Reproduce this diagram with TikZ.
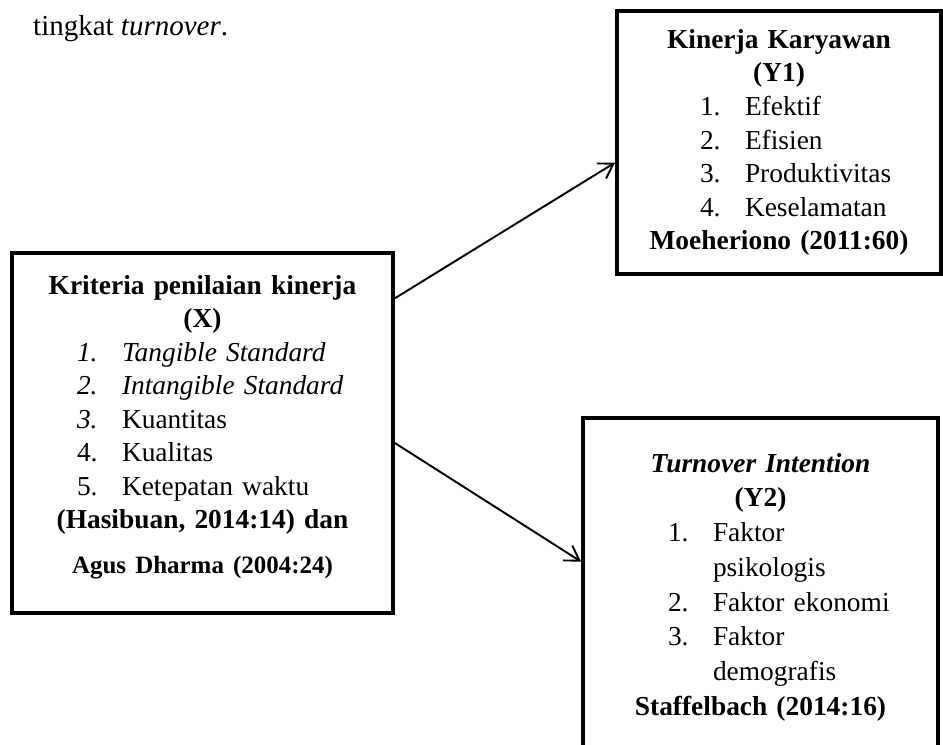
\documentclass[tikz,border=0pt]{standalone}
\usepackage{fontspec}
\setmainfont{Liberation Serif}
\usetikzlibrary{arrows.meta}
\setlength{\parindent}{0pt}
\newcommand{\itm}[2]{\makebox[0.9cm][l]{#1}#2\par}

\begin{document}
\begin{tikzpicture}[x=0.02cm,y=-0.02cm,
    box/.style={draw,line width=2.3pt,inner sep=0pt,
      font=\fontsize{15.6}{19.1}\selectfont}]
      \useasboundingbox (0,0) rectangle (943,744);
      \draw
        (27,35) node[anchor=base west,font=\fontsize{16.5}{20}\selectfont] (intro){tingkat \textit{turnover}.}
        (202.5,433) node[box,minimum width=7.62cm,minimum height=7.2cm,text width=7cm] (x){%
          {\centering\bfseries Kriteria penilaian kinerja\\(X)\par}
          {\leftskip=0.99cm
           \itm{\textit{1.}}{\textit{Tangible Standard}}
           \itm{\textit{2.}}{\textit{Intangible Standard}}
           \itm{\textit{3.}}{Kuantitas}
           \itm{4.}{Kualitas}
           \itm{5.}{Ketepatan waktu}}
          {\centering\bfseries (Hasibuan, 2014:14) dan\par}
          \vspace{8.6pt}
          {\centering\fontsize{14.2}{17}\selectfont\bfseries Agus Dharma (2004:24)\rule[-0.34cm]{0pt}{0pt}\par}}
        (779,142.5) node[box,minimum width=6.48cm,minimum height=5.26cm,text width=6cm] (y1){%
          {\centering\bfseries Kinerja Karyawan\\(Y1)\par}
          {\leftskip=1.42cm
           \itm{1.}{Efektif}
           \itm{2.}{Efisien}
           \itm{3.}{Produktivitas}
           \itm{4.}{Keselamatan}}
          {\centering\bfseries Moeheriono (2011:60)\par}}
        (760.5,590) node[box,minimum width=7.1cm,minimum height=6.88cm,text width=6.6cm,
          font=\fontsize{15.6}{19.8}\selectfont] (y2){%
          {\centering\bfseries\itshape Turnover Intention\\\upshape(Y2)\par}
          {\leftskip=1.45cm
           \itm{1.}{Faktor}
           \itm{}{psikologis}
           \itm{2.}{Faktor ekonomi}
           \itm{3.}{Faktor}
           \itm{}{demografis}}
          {\centering\bfseries Staffelbach (2014:16)\rule[-0.23cm]{0pt}{0pt}\par}};
      \begin{scope}[-{Straight Barb[length=8pt,width=10pt]},line width=1.1pt]
        \draw (x.35.5) to (y1.187.6);
        \draw (x.-3.6) to (y2.171.1);
      \end{scope}
    \end{tikzpicture}
\end{document}
